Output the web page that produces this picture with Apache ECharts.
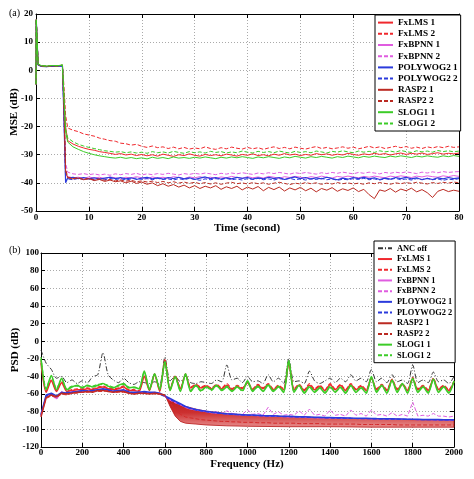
<!DOCTYPE html>
<html><head><meta charset="utf-8">
<script src="https://cdn.jsdelivr.net/npm/echarts@6/dist/echarts.min.js"></script>
<style>html,body{margin:0;padding:0;background:#fff}#c{width:474px;height:479px}</style>
</head><body><div id="c"></div>
<script>
// ---------- Panel (a): MSE vs time ----------
const timeSec = [0,0.05,0.4,1,2,3,4,5,5.3,5.6,
 6,7,8,9,10,11,12,13,14,15,16,17,18,19,20,21,22,23,24,25,26,27,28,29,30,31,32,33,34,35,
 36,37,38,39,40,41,42,43,44,45,46,47,48,49,50,51,52,53,54,55,56,57,58,59,60,61,62,63,64,65,
 66,67,68,69,70,71,72,73,74,75,76,77,78,79,80];
const mseFxLMS1 = [-5,18,2.0,1.5,1.3,1.6,1.4,1.7,-9,-20,
 -25.0,-26.2,-27.0,-27.6,-28.1,-28.4,-28.9,-29.2,-29.5,-29.9,
 -29.6,-30.1,-29.8,-30.3,-29.9,-30.4,-30.0,-30.5,-29.8,-30.2,
 -30.6,-30.0,-30.3,-29.7,-30.2,-30.5,-29.9,-30.3,-30.0,-30.4,
 -29.8,-30.1,-30.5,-29.9,-30.2,-29.7,-30.3,-30.0,-30.4,-29.8,
 -30.2,-29.6,-30.1,-29.8,-30.3,-29.9,-30.2,-29.6,-30.0,-29.7,
 -30.2,-29.8,-30.1,-29.5,-29.9,-30.2,-29.7,-30.0,-29.5,-29.9,
 -29.6,-30.1,-29.7,-29.4,-29.9,-29.5,-29.8,-29.4,-29.9,-29.6,
 -29.3,-29.8,-29.5,-29.7,-29.4];
const mseFxLMS2 = [-5,18,2.1,1.6,1.4,1.5,1.5,1.8,-6,-16,
 -20.5,-21.3,-21.8,-22.6,-23.0,-23.4,-24.1,-24.5,-25.0,-25.2,
 -25.9,-26.1,-26.6,-26.3,-27.0,-27.4,-26.9,-27.5,-27.2,-27.8,
 -27.3,-27.9,-27.4,-28.0,-27.6,-27.9,-27.2,-27.8,-28.1,-27.5,
 -27.9,-27.3,-27.7,-28.0,-27.4,-27.9,-27.5,-28.1,-27.6,-27.2,
 -27.8,-27.4,-27.9,-27.3,-27.7,-28.0,-27.5,-27.1,-27.8,-27.4,
 -27.9,-27.6,-27.2,-27.7,-27.3,-27.9,-27.5,-27.0,-27.6,-27.2,
 -27.8,-27.4,-27.0,-27.5,-27.1,-27.7,-27.3,-27.8,-27.2,-27.6,
 -27.1,-27.5,-27.0,-27.4,-27.2];
const mseFxBPNN1 = [-5,18,2.0,1.4,1.3,1.5,1.4,1.6,-16,-37,
 -37.8,-38.2,-38.0,-38.4,-37.9,-38.3,-38.0,-38.5,-37.9,-38.2,
 -38.6,-38.0,-38.3,-37.8,-38.2,-38.5,-37.9,-38.3,-38.0,-38.4,
 -37.8,-38.1,-38.5,-37.9,-38.2,-37.8,-38.3,-38.0,-38.4,-37.9,
 -38.2,-37.7,-38.1,-38.4,-37.8,-38.2,-37.9,-38.3,-37.7,-38.0,
 -38.4,-37.8,-38.1,-37.7,-38.0,-38.3,-37.8,-38.1,-37.6,-38.0,
 -38.3,-37.7,-38.0,-37.6,-37.9,-38.2,-37.7,-38.0,-37.6,-37.9,
 -38.2,-37.6,-37.9,-37.5,-37.8,-38.1,-37.6,-37.9,-37.5,-37.8,
 -38.0,-37.5,-37.8,-37.4,-37.7];
const mseFxBPNN2 = [-5,18,2.0,1.5,1.4,1.6,1.5,1.7,-14,-33,
 -36.2,-36.8,-37.0,-36.7,-37.1,-36.8,-37.2,-36.9,-37.3,-36.8,
 -37.1,-36.7,-37.0,-36.6,-37.2,-36.8,-37.1,-36.7,-37.0,-36.6,
 -36.9,-37.2,-36.7,-37.0,-36.6,-36.9,-36.5,-36.8,-37.1,-36.6,
 -36.9,-36.5,-36.8,-36.4,-36.7,-37.0,-36.5,-36.8,-36.4,-36.7,
 -36.3,-36.6,-36.9,-36.4,-36.7,-36.3,-36.6,-36.9,-36.4,-36.7,
 -36.3,-36.6,-36.2,-36.5,-36.8,-36.3,-36.6,-36.2,-36.5,-36.8,
 -36.3,-36.6,-36.2,-36.5,-36.1,-36.4,-36.7,-36.2,-36.5,-36.1,
 -36.4,-36.0,-36.3,-36.1,-36.0];
const msePoly1 = [-5,18,1.9,1.4,1.3,1.5,1.4,1.6,-18,-40,
 -38.3,-38.0,-38.5,-38.1,-38.6,-38.2,-38.7,-38.3,-38.0,-38.5,
 -38.1,-38.6,-38.2,-38.8,-38.3,-38.0,-38.6,-38.2,-38.7,-38.1,
 -38.5,-38.0,-38.6,-38.2,-38.8,-38.3,-37.9,-38.5,-38.1,-38.7,
 -38.2,-38.6,-38.0,-38.4,-38.1,-38.7,-38.2,-38.6,-38.0,-38.5,
 -38.1,-38.8,-38.3,-37.9,-38.5,-38.1,-38.7,-38.2,-38.6,-38.0,
 -38.5,-38.9,-38.3,-38.7,-38.1,-38.5,-38.0,-38.6,-38.2,-38.8,
 -38.3,-38.7,-38.1,-38.5,-38.0,-38.6,-38.2,-38.9,-38.4,-38.8,
 -38.2,-38.6,-38.1,-38.5,-38.2];
const msePoly2 = [-5,18,1.9,1.5,1.3,1.5,1.4,1.6,-17,-39,
 -38.6,-38.9,-38.4,-38.8,-38.5,-39.0,-38.6,-38.9,-38.4,-38.8,
 -38.5,-39.0,-38.6,-38.3,-38.8,-38.5,-38.9,-38.4,-38.8,-38.6,
 -39.0,-38.5,-38.9,-38.4,-38.7,-39.1,-38.6,-38.9,-38.5,-38.8,
 -38.4,-38.9,-38.6,-39.0,-38.5,-38.8,-38.4,-38.9,-38.6,-39.0,
 -38.5,-38.8,-38.4,-38.9,-38.6,-39.0,-38.5,-38.8,-38.4,-38.9,
 -38.6,-39.1,-38.7,-38.9,-38.5,-38.8,-38.4,-38.9,-38.6,-39.0,
 -38.5,-38.8,-38.4,-38.9,-38.6,-39.0,-38.5,-38.8,-38.4,-38.9,
 -38.6,-39.1,-38.7,-38.9,-38.5];
const mseRasp1 = [-5,18,2.0,1.5,1.4,1.6,1.5,1.8,-14,-36,
 -38.2,-38.6,-38.3,-38.9,-38.5,-39.2,-38.8,-39.5,-39.0,-39.6,
 -39.3,-40.0,-39.4,-40.2,-39.7,-40.5,-40.0,-41.0,-40.3,-41.2,
 -40.6,-41.5,-40.8,-41.8,-41.0,-42.0,-41.2,-41.8,-41.0,-42.3,
 -41.4,-42.0,-41.2,-42.5,-41.5,-42.2,-41.3,-42.8,-41.6,-42.4,
 -41.5,-42.9,-41.8,-42.5,-41.6,-42.8,-41.9,-43.2,-42.0,-42.6,
 -41.7,-43.0,-42.1,-42.7,-41.8,-43.1,-42.3,-44.2,-45.6,-42.5,
 -43.0,-42.0,-43.3,-42.2,-42.8,-41.9,-43.2,-42.4,-43.5,-45.2,
 -43.0,-42.3,-43.1,-42.6,-43.0];
const mseRasp2 = [-5,18,2.1,1.5,1.4,1.6,1.5,1.8,-13,-35,
 -38.0,-38.4,-38.2,-38.7,-38.5,-38.9,-38.6,-39.1,-38.8,-39.3,
 -39.0,-39.4,-39.1,-39.6,-39.3,-39.7,-39.4,-39.9,-39.5,-40.0,
 -39.6,-40.1,-39.7,-40.2,-39.8,-40.3,-39.9,-40.4,-40.0,-40.5,
 -40.1,-39.8,-40.3,-40.0,-40.4,-39.9,-40.3,-40.0,-40.5,-40.1,
 -39.8,-40.2,-40.6,-40.1,-40.4,-39.9,-40.3,-40.0,-40.5,-40.1,
 -40.4,-39.9,-40.3,-40.0,-40.4,-40.1,-40.5,-40.0,-40.3,-39.9,
 -40.2,-40.5,-40.0,-40.3,-39.9,-40.2,-39.8,-40.1,-40.4,-39.9,
 -40.2,-39.8,-40.1,-39.7,-40.0];
const mseSlog1 = [-5,18,2.2,1.6,1.5,1.7,1.6,1.9,-10,-22,
 -25.5,-27.2,-28.1,-28.9,-29.5,-30.0,-30.4,-30.7,-31.0,-31.2,
 -30.9,-31.3,-31.0,-31.4,-31.1,-31.5,-30.9,-31.3,-31.0,-31.4,
 -30.8,-31.2,-31.0,-31.3,-30.9,-31.2,-30.8,-31.1,-31.4,-30.9,
 -31.2,-30.8,-31.1,-30.7,-31.0,-31.3,-30.8,-31.1,-30.7,-31.0,
 -31.3,-30.8,-31.1,-30.6,-30.9,-31.2,-30.7,-31.0,-30.6,-30.9,
 -31.2,-30.7,-31.0,-30.5,-30.8,-31.1,-30.6,-30.9,-30.5,-30.8,
 -31.0,-30.5,-30.8,-30.4,-30.7,-31.0,-30.5,-30.8,-30.4,-30.7,
 -30.9,-30.4,-30.7,-30.3,-30.6];
const mseSlog2 = [-5,18,2.2,1.7,1.5,1.7,1.6,1.9,-9,-21,
 -24.0,-25.4,-26.3,-26.9,-27.4,-27.8,-28.2,-28.6,-28.8,-29.1,
 -28.9,-29.3,-29.0,-29.4,-29.1,-29.5,-28.9,-29.3,-29.0,-29.4,
 -28.8,-29.2,-29.5,-28.9,-29.3,-29.0,-29.4,-28.8,-29.2,-28.9,
 -29.4,-29.0,-29.3,-28.7,-29.1,-29.4,-28.8,-29.2,-28.9,-29.3,
 -28.7,-29.1,-29.4,-28.8,-29.2,-28.9,-29.3,-28.7,-29.0,-29.4,
 -28.8,-29.1,-28.6,-29.0,-29.3,-28.7,-29.1,-28.8,-29.2,-28.6,
 -29.0,-28.7,-29.1,-28.5,-28.9,-29.2,-28.6,-29.0,-28.7,-29.1,
 -28.5,-28.9,-28.6,-29.0,-28.7];

// ---------- Panel (b): PSD vs frequency ----------
const freqHz = [0,25,50,75,100,125,150,175,200,225,250,275,300,325,350,375,400,425,450,475,
 500,525,550,575,600,625,650,675,700,725,750,775,800,825,850,875,900,925,950,975,
 1000,1025,1050,1075,1100,1125,1150,1175,1200,1225,1250,1275,1300,1325,1350,1375,
 1400,1425,1450,1475,1500,1525,1550,1575,1600,1625,1650,1675,1700,1725,1750,1775,
 1800,1825,1850,1875,1900,1925,1950,1975,2000];
const psdAncOff = [-10,-25,-32,-42, -40,-47,-44,-48, -45,-47,-40,-38, -13,-38,-44,-47, -42,-47,-49,-46,
 -47,-48,-46,-49, -18,-45,-40,-46, -40,-47,-48,-46, -47,-48,-44,-46, -27,-44,-42,-47,
 -40,-46,-45,-48, -38,-46,-42,-48, -20,-46,-45,-48, -34,-45,-48,-45, -42,-47,-42,-46,
 -38,-45,-42,-46, -32,-46,-42,-47, -38,-46,-44,-48, -27,-47,-44,-47, -35,-46,-44,-48, -40];
const psdFxLMS1 = [-25,-58,-45,-57, -47,-57,-56,-55, -55,-54,-55,-53, -52,-54,-55,-54, -52,-56,-56,-57,
 -40,-56,-38,-57, -22,-55,-40,-54, -38,-53,-50,-53, -51,-54,-50,-54, -50,-55,-51,-54,
 -47,-55,-50,-54, -49,-55,-51,-55, -25,-55,-50,-56, -50,-55,-51,-56, -49,-55,-50,-56,
 -49,-55,-51,-56, -42,-55,-50,-56, -44,-55,-49,-56, -43,-55,-51,-56, -43,-55,-51,-56, -46];
const psdFxLMS2 = [-22,-57,-44,-56, -46,-56,-55,-54, -54,-53,-54,-52, -51,-53,-54,-53, -51,-55,-55,-56,
 -39,-55,-37,-56, -21,-54,-39,-53, -37,-52,-49,-52, -50,-53,-49,-53, -48,-54,-50,-53,
 -46,-54,-49,-53, -48,-54,-50,-54, -24,-54,-49,-55, -48,-54,-50,-55, -48,-54,-49,-55,
 -48,-54,-50,-55, -41,-54,-49,-55, -43,-54,-48,-55, -41,-54,-50,-55, -42,-54,-50,-55, -45];
const psdFxBPNN1 = [-85,-62,-60,-65, -58,-60,-57,-58, -57,-56,-57,-55, -55,-56,-57,-56, -56,-58,-59,-58,
 -58,-59,-58,-59, -62,-66,-69,-72, -75,-77,-78,-79, -80,-81,-81.5,-82, -82.5,-83,-83.3,-83.6,
 -84,-84.2,-84.5,-84.8, -85,-85.2,-85.4,-85.6, -85.8,-86,-86.2,-86.4, -86.6,-86.8,-87,-87.1,
 -87.2,-87.3,-87.4,-87.5, -87.6,-87.7,-87.8,-87.9, -88,-88.1,-88.2,-88.3, -88.4,-88.5,-88.6,-88.7,
 -88.8,-88.9,-89,-89.1, -89.2,-89.3,-89.4,-89.5, -89.6];
const psdFxBPNN2 = [-82,-63,-61,-66, -57,-59,-58,-57, -56,-57,-56,-56, -56,-55,-58,-57, -57,-59,-58,-59,
 -59,-58,-59,-60, -63,-67,-70,-72, -74,-76,-77,-79, -79,-81,-80,-82, -79,-82,-83,-83,
 -78,-83,-82,-84, -75,-83,-80,-84, -83,-84,-79,-84, -77,-84,-83,-85, -78,-84,-83,-85,
 -78,-84,-82,-85, -78,-84,-83,-85, -81,-85,-83,-85, -69,-85,-84,-85, -82,-85,-85,-86, -85];
const psdPoly1 = [-83,-61,-59,-62, -58,-59,-58,-57, -56,-57,-56,-55, -54,-55,-57,-56, -55,-58,-58,-58,
 -57,-58,-58,-59, -62,-65,-68,-71, -74,-76,-77.5,-78.5, -79.5,-80.3,-81,-81.7, -82.2,-82.6,-83,-83.3,
 -83.6,-83.8,-84,-84.3, -84.5,-84.7,-84.9,-85, -85.2,-85.4,-85.6,-85.8, -86,-86.2,-86.3,-86.5,
 -86.6,-86.8,-86.9,-87, -87.2,-87.3,-87.4,-87.5, -87.6,-87.8,-87.9,-88, -88.1,-88.2,-88.3,-88.4,
 -88.5,-88.6,-88.7,-88.8, -88.8,-88.9,-89,-89, -89];
const psdPoly2 = [-84,-62,-60,-63, -59,-58,-58,-58, -57,-56,-57,-56, -55,-56,-56,-57, -56,-57,-59,-58,
 -58,-59,-58,-60, -63,-66,-69,-72, -74.5,-76.5,-78,-79, -80,-80.8,-81.5,-82, -82.6,-83,-83.4,-83.7,
 -84,-84.2,-84.4,-84.7, -84.9,-85.1,-85.3,-85.5, -85.7,-85.9,-86.1,-86.2, -86.4,-86.6,-86.7,-86.9,
 -87,-87.2,-87.3,-87.4, -87.5,-87.7,-87.8,-87.9, -88,-88.1,-88.2,-88.3, -88.4,-88.5,-88.6,-88.7,
 -88.8,-88.9,-89,-89.1, -89.1,-89.2,-89.3,-89.3, -89.4];
// RASP2 1: line below 600 Hz, then a dense band (upper / lower envelope) above 600 Hz
const freqRasp1Low = [0,25,50,75,100,125,150,175,200,225,250,275,300,325,350,375,400,425,450,475,500,525,550,575,600];
const psdRasp1Low = [-86,-64,-61,-63,-59,-60,-59,-58,-58,-57,-58,-56,-56,-57,-58,-57,-57,-59,-60,-59,-59,-60,-59,-60,-61];
const bandFreq = [600,610,625,650,675,700,750,800,900,1000,1200,1400,1600,1800,2000];
const bandTop = [-61,-64,-66,-69,-72,-74,-77,-79.5,-82,-84,-85.5,-87,-88,-89,-89.5];
const bandBottom = [-61.5,-66,-74,-85,-91,-93,-94,-95,-96,-96.5,-97,-97,-97.5,-97.5,-97.5];
const psdRasp2 = [-84,-65,-62,-64, -60,-61,-59,-59, -58,-58,-57,-57, -57,-56,-58,-58, -58,-59,-60,-59,
 -60,-59,-60,-60, -62,-70,-78,-83, -86,-87,-88,-89, -89.5,-90,-90.5,-91, -91,-91.5,-91.5,-92,
 -92,-92,-92.5,-92.5, -92.5,-93,-93,-93, -93,-93,-93.5,-93.5, -93.5,-93.5,-93.5,-94, -94,-94,-94,-94,
 -94,-94,-94.5,-94.5, -94.5,-94.5,-94.5,-94.5, -94.5,-95,-95,-95, -95,-95,-95,-95, -95,-95,-95,-95, -95];
const psdSlog1 = [-20,-55,-39,-55, -42,-55,-52,-50, -53,-50,-52,-50, -48,-51,-53,-50, -48,-53,-52,-54,
 -34,-55,-37,-55, -23,-56,-40,-57, -37,-57,-50,-56, -52,-55,-50,-56, -52,-57,-52,-56,
 -45,-57,-51,-57, -50,-57,-52,-58, -22,-58,-50,-59, -52,-58,-53,-59, -52,-58,-52,-59,
 -50,-58,-53,-59, -40,-58,-50,-59, -44,-58,-48,-59, -42,-58,-52,-59, -43,-58,-52,-59, -45];
const psdSlog2 = [-18,-54,-40,-54, -43,-54,-51,-51, -52,-51,-51,-49, -49,-50,-52,-51, -49,-52,-53,-53,
 -35,-54,-38,-54, -24,-55,-41,-56, -38,-56,-51,-57, -51,-56,-51,-55, -51,-56,-51,-57,
 -46,-56,-52,-56, -49,-56,-51,-57, -23,-57,-51,-58, -51,-57,-52,-58, -51,-57,-53,-58,
 -51,-57,-52,-58, -41,-57,-51,-58, -45,-57,-49,-58, -43,-57,-51,-58, -44,-57,-51,-58, -46];

const topNames = ['FxLMS 1','FxLMS 2','FxBPNN 1','FxBPNN 2','POLYWOG2 1','POLYWOG2 2','RASP2 1','RASP2 2','SLOG1 1','SLOG1 2'];
const botNames = ['ANC off','FxLMS 1','FxLMS 2','FxBPNN 1','FxBPNN 2','PLOYWOG2 1','PLOYWOG2 2','RASP2 1','RASP2 2','SLOG1 1','SLOG1 2'];

const COL = {anc:'#333333', fxlms:'#f0282d', fxbpnn:'#e05ce0', poly:'#2b3bdc', rasp:'#bb2a22', slog:'#3ccc28'};
const DASH = [4,2];
const FONT = 'Liberation Serif';

function zip(xs, ys){ return ys.map((y,i)=>[xs[i], y]); }
function line(name, xs, ys, color, dashed, width, xi, yi, extra){
  return Object.assign({
    name, type:'line', xAxisIndex:xi, yAxisIndex:yi, data: zip(xs, ys),
    symbol:'none', animation:false, silent:true,
    lineStyle:{color, width, type: dashed ? (dashed===true ? DASH : dashed) : 'solid'},
    itemStyle:{color}
  }, extra||{});
}
const SM = {smooth:0.25};

const bandSeries = {
  name:'RASP2 band', type:'custom', xAxisIndex:2, yAxisIndex:2, silent:true, animation:false, z:2,
  data: bandFreq.map((f,i)=>[f, bandTop[i], bandBottom[i]]),
  encode:{x:0, y:[1,2]},
  renderItem:function(params, api){
    if (params.dataIndex !== 0) return null;
    const pts = [];
    for (let i = 0; i < bandFreq.length; i++) pts.push(api.coord([bandFreq[i], bandTop[i]]));
    for (let i = bandFreq.length - 1; i >= 0; i--) pts.push(api.coord([bandFreq[i], bandBottom[i]]));
    return {type:'polygon', shape:{points:pts}, style:{
      fill:new echarts.graphic.LinearGradient(0,0,0,1,[{offset:0,color:'#b81414'},{offset:0.55,color:'#cc3030'},{offset:1,color:'#e89090'}]),
      stroke:'#b81414', lineWidth:0.8}};
  }
};

const series = [
  line('FxLMS 1', timeSec, mseFxLMS1, COL.fxlms, false, 1, 0, 0),
  line('FxLMS 2', timeSec, mseFxLMS2, COL.fxlms, true, 1, 0, 0),
  line('FxBPNN 1', timeSec, mseFxBPNN1, COL.fxbpnn, false, 1, 0, 0),
  line('FxBPNN 2', timeSec, mseFxBPNN2, COL.fxbpnn, true, 1, 0, 0),
  line('POLYWOG2 1', timeSec, msePoly1, COL.poly, false, 1.2, 0, 0),
  line('POLYWOG2 2', timeSec, msePoly2, COL.poly, true, 1, 0, 0),
  line('RASP2 1', timeSec, mseRasp1, COL.rasp, false, 1, 0, 0),
  line('RASP2 2', timeSec, mseRasp2, COL.rasp, true, 1, 0, 0),
  line('SLOG1 1', timeSec, mseSlog1, COL.slog, false, 1, 0, 0),
  line('SLOG1 2', timeSec, mseSlog2, COL.slog, true, 1, 0, 0),

  line('ANC off', freqHz, psdAncOff, COL.anc, [5,2,1,2], 1, 2, 2, SM),
  line('FxLMS 1', freqHz, psdFxLMS1, COL.fxlms, false, 1.5, 2, 2, SM),
  line('FxLMS 2', freqHz, psdFxLMS2, COL.fxlms, true, 1.2, 2, 2, SM),
  line('FxBPNN 1', freqHz, psdFxBPNN1, COL.fxbpnn, false, 1.2, 2, 2),
  line('FxBPNN 2', freqHz, psdFxBPNN2, COL.fxbpnn, true, 1, 2, 2),
  line('PLOYWOG2 1', freqHz, psdPoly1, COL.poly, false, 1.5, 2, 2),
  line('PLOYWOG2 2', freqHz, psdPoly2, COL.poly, true, 1.2, 2, 2),
  line('RASP2 1', freqRasp1Low, psdRasp1Low, COL.rasp, false, 1.5, 2, 2),
  bandSeries,
  line('RASP2 2', freqHz, psdRasp2, '#d42a2a', true, 1, 2, 2),
  line('SLOG1 1', freqHz, psdSlog1, COL.slog, false, 1.6, 2, 2, SM),
  line('SLOG1 2', freqHz, psdSlog2, COL.slog, true, 1.2, 2, 2, SM)
];

const tickLbl = {fontFamily:FONT, fontWeight:'bold', fontSize:9, color:'#000', formatter:(v)=>String(v)};
const gridLine = {show:true, lineStyle:{color:'#aaa', type:[1,2], width:1}};
function xAx(gi, min, max, iv, pos, margin){
  const main = pos==='bottom';
  return {type:'value', gridIndex:gi, position:pos, min, max, interval:iv,
    axisLine:{show:true, onZero:false, lineStyle:{color:'#000'}},
    axisTick:{show:true, inside:true, length:4, lineStyle:{color:'#000'}},
    axisLabel:Object.assign({show:main, margin:margin}, tickLbl),
    splitLine: main ? gridLine : {show:false}};
}
function yAx(gi, min, max, iv, pos, margin){
  const main = pos==='left';
  return {type:'value', gridIndex:gi, position:pos, min, max, interval:iv,
    axisLine:{show:true, onZero:false, lineStyle:{color:'#000'}},
    axisTick:{show:true, inside:true, length:4, lineStyle:{color:'#000'}},
    axisLabel:Object.assign({show:main, margin:margin}, tickLbl),
    splitLine: main ? gridLine : {show:false}};
}

const legendCommon = {orient:'vertical', backgroundColor:'#fff', borderColor:'#000', borderWidth:1,
  borderRadius:0, itemGap:0, itemHeight:8, selectedMode:false, z:20,
  itemStyle:{opacity:0, color:'rgba(0,0,0,0)', borderWidth:0}};

const option = {
  backgroundColor:'#fff',
  animation:false,
  grid:[
    {left:36, top:14, width:423, height:197, show:false},
    {left:41, top:253, width:413, height:194, show:false}
  ],
  xAxis:[xAx(0,0,80,10,'bottom',2), xAx(0,0,80,10,'top'), xAx(1,0,2000,200,'bottom',1), xAx(1,0,2000,200,'top')],
  yAxis:[yAx(0,-50,20,10,'left',3), yAx(0,-50,20,10,'right'), yAx(1,-120,100,20,'left',2), yAx(1,-120,100,20,'right')],
  legend:[
    Object.assign({}, legendCommon, {data:topNames, left:375, top:15, itemWidth:15, padding:[2,3,2,2],
      textStyle:{fontFamily:FONT, fontWeight:'bold', fontSize:9.2, color:'#000', lineHeight:11.2}}),
    Object.assign({}, legendCommon, {data:botNames, left:374, top:241, itemWidth:14, padding:[2,3,2,3],
      textStyle:{fontFamily:FONT, fontWeight:'bold', fontSize:8.4, color:'#000', lineHeight:10.7}})
  ],
  graphic:[
    {type:'text', left:9, top:8, style:{text:'(a)', font:'10px "Liberation Serif"', fill:'#000'}},
    {type:'text', left:9, top:245, style:{text:'(b)', font:'10px "Liberation Serif"', fill:'#000'}},
    {type:'text', x:14, y:112, rotation:Math.PI/2, style:{text:'MSE (dB)', font:'bold 11px "Liberation Serif"', fill:'#000', align:'center', verticalAlign:'middle'}},
    {type:'text', x:15, y:350, rotation:Math.PI/2, style:{text:'PSD (dB)', font:'bold 11px "Liberation Serif"', fill:'#000', align:'center', verticalAlign:'middle'}},
    {type:'text', x:247, y:228, style:{text:'Time (second)', font:'bold 11px "Liberation Serif"', fill:'#000', align:'center', verticalAlign:'middle'}},
    {type:'text', x:247, y:464, style:{text:'Frequency (Hz)', font:'bold 11px "Liberation Serif"', fill:'#000', align:'center', verticalAlign:'middle'}}
  ],
  series
};
const chart = echarts.init(document.getElementById('c'), null, {renderer:'canvas'});
chart.setOption(option);
</script>
</body></html>
